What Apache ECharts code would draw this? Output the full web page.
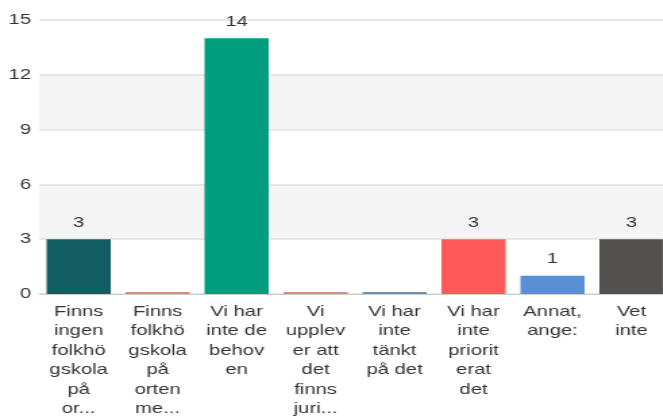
<!DOCTYPE html>
<html>
<head>
<meta charset="utf-8">
<script src="https://cdn.jsdelivr.net/npm/echarts@6/dist/echarts.min.js"></script>
<style>
  html, body { margin: 0; padding: 0; background: #fff; overflow: hidden; width: 663px; height: 419px; }
  /* the original looks horizontally stretched, so draw narrow and stretch */
  #chart { width: 500px; height: 419px; transform: scaleX(1.35); transform-origin: 0 0; }
</style>
</head>
<body>
<div id="chart"></div>
<script>
const categories = [
  'Finns\ningen\nfolkhö\ngskola\npå\nor...',
  'Finns\nfolkhö\ngskola\npå\norten\nme...',
  'Vi har\ninte de\nbehov\nen',
  'Vi\nupplev\ner att\ndet\nfinns\njuri...',
  'Vi har\ninte\ntänkt\npå det',
  'Vi har\ninte\npriorit\nerat\ndet',
  'Annat,\nange:',
  'Vet\ninte'
]
const values = [3, 0, 14, 0, 0, 3, 1, 3]
const colors = ['#135e62', '#d98a80', '#009e7e', '#d98a80', '#6e8fae', '#ff5a5a', '#5a8fd4', '#535150']
const yTicks = [0, 3, 6, 9, 12, 15]

const chart = echarts.init(document.getElementById('chart'))

chart.setOption({
  animation: false,
  textStyle: { fontFamily: 'Liberation Sans, Arial, sans-serif' },
  grid: { left: 29, width: 468, top: 20, bottom: 124, containLabel: false },
  xAxis: {
    type: 'category',
    data: categories,
    axisLine: { lineStyle: { color: '#cccccc', width: 1 } },
    axisTick: { show: false },
    axisLabel: {
      interval: 0,
      margin: 8,
      color: '#333333',
      fontSize: 15,
      lineHeight: 19.5,
      align: 'center'
    }
  },
  yAxis: {
    type: 'value',
    min: yTicks[0],
    max: yTicks[yTicks.length - 1],
    interval: 3,
    axisLine: { show: false },
    axisTick: { show: false },
    axisLabel: { color: '#333333', fontSize: 15, margin: 6 },
    splitLine: { lineStyle: { color: '#e0e0e0', width: 1.5 } },
    splitArea: { show: true, areaStyle: { color: ['#ffffff', '#f4f4f4'] } }
  },
  series: [{
    type: 'bar',
    barWidth: 47.5,
    barMinHeight: 2,
    data: values.map((v, i) => ({ value: v, itemStyle: { color: colors[i] } })),
    label: {
      show: true,
      position: 'top',
      distance: 9,
      color: '#333333',
      fontSize: 15,
      formatter: p => (p.value ? String(p.value) : '')
    }
  }]
})
</script>
</body>
</html>
